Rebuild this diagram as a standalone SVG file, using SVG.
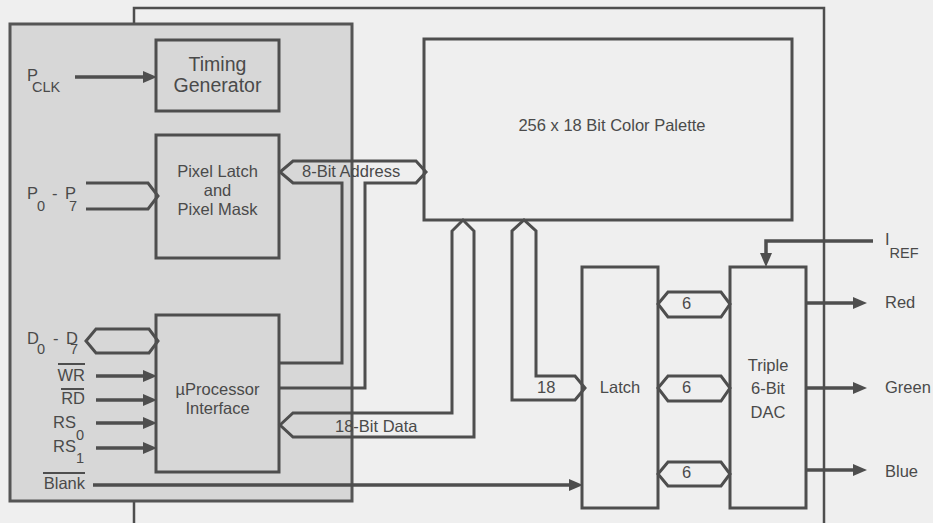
<svg xmlns="http://www.w3.org/2000/svg" width="933" height="523" viewBox="0 0 933 523">
<defs>
<style>
.bg{fill:#efefef}
.box{fill:none;stroke:#4e4e4e;stroke-width:3}
.bus{fill:none;stroke:#4e4e4e;stroke-width:3;stroke-linejoin:miter}
.wire{fill:none;stroke:#4e4e4e;stroke-width:3.5}
.ol{stroke:#4e4e4e;stroke-width:2}
text{font-family:"Liberation Sans",Arial,sans-serif;fill:#4a4a4a;font-size:16.5px}
.big{font-size:19.5px}
.sub{font-size:14.5px}
.mid{text-anchor:middle}
.end{text-anchor:end}
</style>
<marker id="arr" viewBox="0 0 14 12" refX="8" refY="6" markerWidth="14" markerHeight="12" orient="auto" markerUnits="userSpaceOnUse">
<path d="M0,0 L14,6 L0,12 z" fill="#4e4e4e"/>
</marker>
</defs>
<rect class="bg" x="0" y="0" width="933" height="523"/>
<g id="device-outline">
<rect x="134" y="8" width="690" height="525" fill="#efefef" stroke="#4e4e4e" stroke-width="2.5"/>
</g>
<g id="panel">
<rect x="10" y="24" width="342" height="477" fill="#d7d7d7" stroke="#555" stroke-width="3"/>
</g>
<g id="timing-generator">
<rect class="box" x="156" y="40" width="123" height="71"/>
<text class="big mid" x="217.5" y="71">Timing</text>
<text class="big mid" x="217.5" y="92">Generator</text>
</g>
<g id="pixel-latch">
<rect class="box" x="156" y="135" width="123" height="123"/>
<text class="mid" x="217.5" y="177">Pixel Latch</text>
<text class="mid" x="217.5" y="196">and</text>
<text class="mid" x="217.5" y="215">Pixel Mask</text>
</g>
<g id="uprocessor-interface">
<rect class="box" x="156" y="315" width="123" height="157"/>
<text class="mid" x="217.5" y="395">µProcessor</text>
<text class="mid" x="217.5" y="414">Interface</text>
</g>
<g id="color-palette">
<rect class="box" x="424" y="39" width="368" height="181"/>
<text class="mid" x="612" y="131">256 x 18 Bit Color Palette</text>
</g>
<g id="latch">
<rect class="box" x="582" y="267" width="76" height="241"/>
<text class="mid" x="620" y="393">Latch</text>
</g>
<g id="dac">
<rect class="box" x="730" y="267" width="76" height="241"/>
<text class="mid" x="768" y="371">Triple</text>
<text class="mid" x="768" y="394">6-Bit</text>
<text class="mid" x="768" y="418">DAC</text>
</g>
<g id="connectors">
<line class="wire" x1="75" y1="77" x2="151" y2="77" marker-end="url(#arr)"/>
<path class="bus" d="M86,183 H148 L158,196 L148,209 H86"/>
<path class="bus" d="M86,341 L96,329 H149 L158,341 L149,353 H96 Z"/>
<line class="wire" x1="96" y1="376" x2="151" y2="376" marker-end="url(#arr)"/>
<line class="wire" x1="96" y1="400" x2="151" y2="400" marker-end="url(#arr)"/>
<line class="wire" x1="96" y1="423" x2="151" y2="423" marker-end="url(#arr)"/>
<line class="wire" x1="96" y1="448" x2="151" y2="448" marker-end="url(#arr)"/>
<line class="wire" x1="93" y1="485" x2="577" y2="485" marker-end="url(#arr)"/>
<path class="bus" d="M279,363 H342 V183 H293 L280,172 L293,161 H416 L426,172 L416,183 H365 V388 H279"/>
<path class="bus" d="M280,425 L293,413 H452 V231 L463,220 L474,231 V437 H293 Z"/>
<path class="bus" d="M512,400 V231 L524,220 L536,231 V376 H575 L585,388 L575,400 Z"/>
<path class="bus" d="M658,304 L668,292 H721 L730,304 L721,317 H668 Z"/>
<path class="bus" d="M658,388 L668,376 H721 L730,388 L721,401 H668 Z"/>
<path class="bus" d="M658,474 L668,462 H721 L730,474 L721,486 H668 Z"/>
<line class="wire" x1="806" y1="303" x2="861" y2="303" marker-end="url(#arr)"/>
<line class="wire" x1="806" y1="388" x2="861" y2="388" marker-end="url(#arr)"/>
<line class="wire" x1="806" y1="470" x2="861" y2="470" marker-end="url(#arr)"/>
<path class="wire" d="M873,241 H766 V261" marker-end="url(#arr)"/>
</g>
<g id="labels">
<text x="27" y="81">P<tspan class="sub" dx="-6" dy="11">CLK</tspan></text>
<text x="27" y="199">P<tspan class="sub" x="37" dy="12">0</tspan><tspan x="52" dy="-12">-</tspan><tspan x="65">P</tspan><tspan class="sub" x="69" dy="12">7</tspan></text>
<text x="27" y="344">D<tspan class="sub" x="37" dy="10">0</tspan><tspan x="53" dy="-10">-</tspan><tspan x="66">D</tspan><tspan class="sub" x="70" dy="10">7</tspan></text>
<text class="end" x="85" y="381">WR</text><line class="ol" x1="58" y1="364" x2="85" y2="364"/>
<text class="end" x="85" y="404">RD</text><line class="ol" x1="61" y1="389" x2="84" y2="389"/>
<text x="53" y="428">RS<tspan class="sub" dy="12">0</tspan></text>
<text x="53" y="452">RS<tspan class="sub" dy="11">1</tspan></text>
<text class="end" x="85" y="489">Blank</text><line class="ol" x1="43" y1="473" x2="85" y2="473"/>
<text x="302" y="177">8-Bit Address</text>
<text x="335" y="432">18-Bit Data</text>
<text x="537" y="393">18</text>
<text x="682" y="309">6</text>
<text x="682" y="393">6</text>
<text x="682" y="478">6</text>
<text x="885" y="308">Red</text>
<text x="885" y="393">Green</text>
<text x="885" y="477">Blue</text>
<text x="885" y="245">I<tspan class="sub" dy="13">REF</tspan></text>
</g>
</svg>
